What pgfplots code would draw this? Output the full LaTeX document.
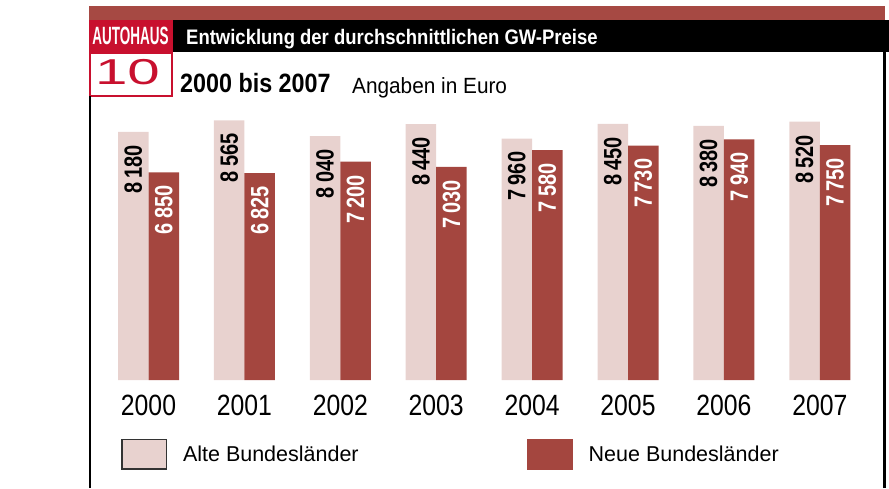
\documentclass[border=0pt]{standalone}
\usepackage{fontspec}
\setmainfont{Liberation Sans}
\newfontfamily\valfam{Liberation Sans}[FakeStretch=0.8]
\newfontfamily\yearfam{Liberation Sans}[FakeStretch=0.845]
\newfontfamily\titlefam{Liberation Sans}[FakeStretch=0.88]
\newfontfamily\angfam{Liberation Sans}[FakeStretch=0.945]
\newfontfamily\logofam{Liberation Sans}[FakeStretch=0.54]
\usepackage{graphicx}
\usepackage{pgfplots}
\pgfplotsset{compat=1.18}
\definecolor{alte}{HTML}{E8D2CF}
\definecolor{neue}{HTML}{A4463F}
\definecolor{stripe}{HTML}{A64943}
\definecolor{logored}{HTML}{C8102E}
\begin{document}
\begin{tikzpicture}
\path[use as bounding box] (0pt,0pt) rectangle (889pt,488pt);
% header
\fill[stripe] (89pt,468pt) rectangle (885pt,482pt);
\fill[black] (89pt,436pt) rectangle (889pt,468pt);
\fill[logored] (89pt,436pt) rectangle (173pt,468pt);
\node[text=white, inner sep=0pt, font=\logofam\bfseries\fontsize{25}{25}\selectfont] at (130.5pt,452pt) {AUTOHAUS};
\node[text=white, inner sep=0pt, anchor=base west, font=\titlefam\bfseries\fontsize{21}{21}\selectfont] at (186pt,443.7pt) {Entwicklung der durchschnittlichen GW-Preise};
\draw[logored, line width=2pt] (90pt,392pt) rectangle (172pt,435pt);
\node[text=logored, inner sep=0pt, font=\fontsize{36}{36}\selectfont] at (127.5pt,416pt) {\scalebox{1.62}[1]{10}};
\node[inner sep=0pt, anchor=base west, font=\titlefam\bfseries\fontsize{26.5}{26.5}\selectfont] at (180pt,395pt) {2000 bis 2007};
\node[inner sep=0pt, anchor=base west, font=\angfam\fontsize{22}{22}\selectfont] at (352pt,394.3pt) {Angaben in Euro};
% frame lines
\draw[black, line width=2pt] (89.5pt,0pt) -- (89.5pt,392pt);
\draw[black, line width=3pt] (884.5pt,0pt) -- (884.5pt,436pt);
\begin{axis}[
  at={(100.55pt,108pt)}, anchor=south west,
  scale only axis, width=767.2pt, height=272.9pt,
  xmin=-0.5, xmax=7.5, ymin=0, ymax=9000,
  enlargelimits=false, clip=false,
  axis line style={draw=none},
  ytick=\empty,
  xtick={0,1,2,3,4,5,6,7},
  xticklabels={2000,2001,2002,2003,2004,2005,2006,2007},
  xtick style={draw=none},
  xticklabel style={inner sep=0pt, anchor=north, yshift=-11pt, font=\yearfam\fontsize{29.3}{29.3}\selectfont},
  /pgf/number format/assume math mode=true,
  ybar, bar width=30.5pt,
  point meta=y,
  nodes near coords={\pgfmathprintnumber[1000 sep={\,}]{\pgfplotspointmeta}},
  every node near coord/.append style={rotate=90, anchor=east, inner sep=0pt, inner xsep=13pt, font=\valfam\bfseries\fontsize{25}{25}\selectfont},
  legend columns=2,
  legend style={draw=none, fill=none, inner sep=0pt, outer sep=0pt, anchor=west,
    at={(axis description cs:0.02666,-0.2730)},
    nodes={inner sep=0pt, font=\fontsize{21.5}{21.5}\selectfont},
    /tikz/every odd column/.append style={column sep=16pt},
    /tikz/every even column/.append style={column sep=168pt}},
]
\addplot[fill=alte, draw=none, bar shift=-15.25pt,
  every node near coord/.append style={text=black},
  legend image code/.code={\draw[fill=alte, draw=black!80, line width=1.5pt] (0.75pt,-14.75pt) rectangle (45.25pt,14.75pt);}]
  coordinates {(0,8180) (1,8565) (2,8040) (3,8440) (4,7960) (5,8450) (6,8380) (7,8520)};
\addlegendentry{Alte Bundesländer}
\addplot[fill=neue, draw=none, bar shift=15.25pt,
  every node near coord/.append style={text=white},
  legend image code/.code={\fill[neue] (0pt,-15.5pt) rectangle (46pt,15.5pt);}]
  coordinates {(0,6850) (1,6825) (2,7200) (3,7030) (4,7580) (5,7730) (6,7940) (7,7750)};
\addlegendentry{Neue Bundesländer}
\end{axis}
\end{tikzpicture}
\end{document}
